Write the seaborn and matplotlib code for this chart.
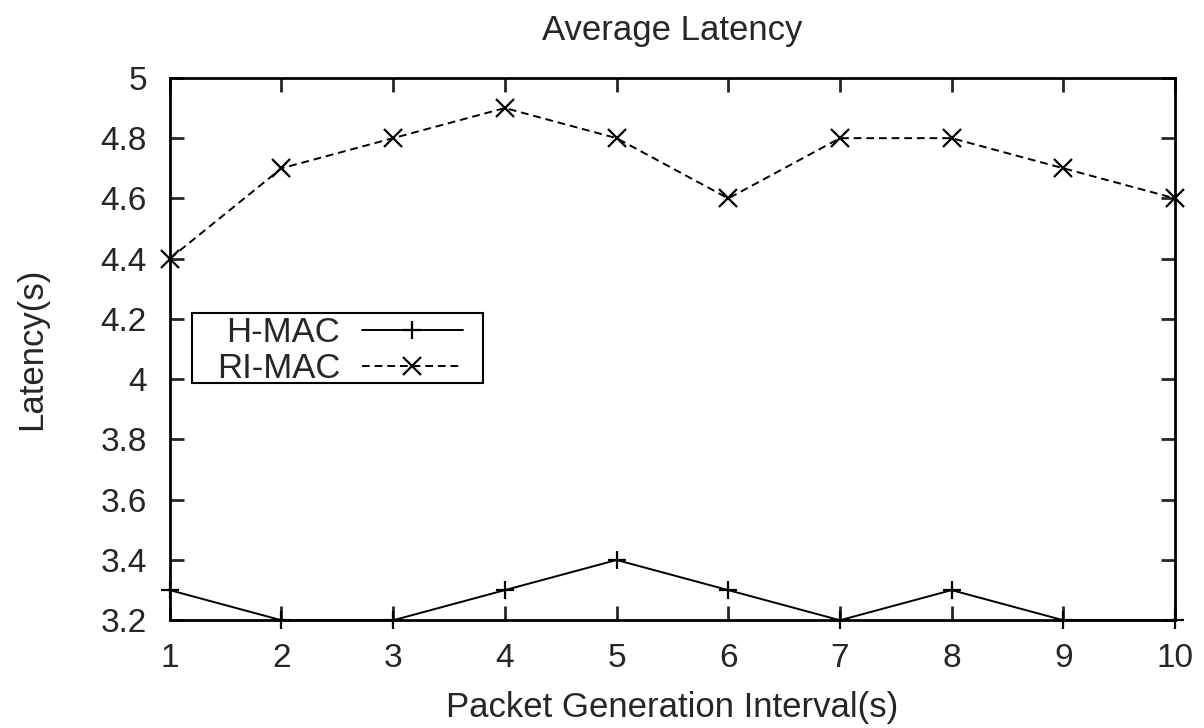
import matplotlib
matplotlib.use("Agg")
import matplotlib.pyplot as plt
import matplotlib.patches as mpatches
import seaborn as sns
import pandas as pd

intervals = [1, 2, 3, 4, 5, 6, 7, 8, 9, 10]
hmac = [3.3, 3.2, 3.2, 3.3, 3.4, 3.3, 3.2, 3.3, 3.2, 3.2]
rimac = [4.4, 4.7, 4.8, 4.9, 4.8, 4.6, 4.8, 4.8, 4.7, 4.6]
yticks = [3.2, 3.4, 3.6, 3.8, 4.0, 4.2, 4.4, 4.6, 4.8, 5.0]
ytick_labels = ["3.2", "3.4", "3.6", "3.8", "4", "4.2", "4.4", "4.6", "4.8", "5"]

sns.set_style("white")
plt.rcParams['font.family'] = ['Liberation Sans', 'DejaVu Sans']

df = pd.DataFrame({
    "x": intervals * 2,
    "y": hmac + rimac,
    "series": ["H-MAC"] * len(hmac) + ["RI-MAC"] * len(rimac),
})

fig = plt.figure(figsize=(12.04, 7.28), dpi=100)
ax = fig.add_axes([0.141, 0.148, 0.835, 0.745])

sns.lineplot(data=df, x="x", y="y", hue="series", style="series", ax=ax,
             palette={"H-MAC": "black", "RI-MAC": "black"},
             markers={"H-MAC": "+", "RI-MAC": "x"},
             dashes={"H-MAC": "", "RI-MAC": (4, 2.5)},
             markersize=13, linewidth=1.4, clip_on=False)

for line in ax.lines:
    line.set_markeredgecolor("black")
    line.set_markerfacecolor("black")
    line.set_markeredgewidth(1.6)

ax.set_xlim(1, 10)
ax.set_ylim(3.2, 5.0)
ax.set_xticks(intervals)
ax.set_yticks(yticks)
ax.set_yticklabels(ytick_labels)
ax.tick_params(direction="in", length=10, width=2, labelsize=24, pad=16.5,
               top=True, right=True, bottom=True, left=True)
for s in ax.spines.values():
    s.set_linewidth(2)
    s.set_color("black")

ax.set_title("Average Latency", fontsize=25, pad=27)
ax.set_xlabel("Packet Generation Interval(s)", fontsize=25, labelpad=12)
ax.set_ylabel("Latency(s)", fontsize=25, labelpad=38)

handles, labels = ax.get_legend_handles_labels()
for h in handles:
    h.set_color("black")
    h.set_markeredgecolor("black")
    h.set_markeredgewidth(1.6)
leg = ax.legend(handles, labels, loc="upper right", bbox_to_anchor=(0.2915, 0.561),
                markerfirst=False, fontsize=25, frameon=False,
                handlelength=2.9, borderpad=0.0, labelspacing=0.1,
                handletextpad=0.63, borderaxespad=0)
for t in leg.get_texts():
    t.set_ha("right")

ax.add_patch(mpatches.Rectangle((0.0219, 0.4373), 0.2895, 0.1291,
                                transform=ax.transAxes, fill=False,
                                edgecolor="black", linewidth=1.5, zorder=5))

fig.savefig("out.png", dpi=100)
